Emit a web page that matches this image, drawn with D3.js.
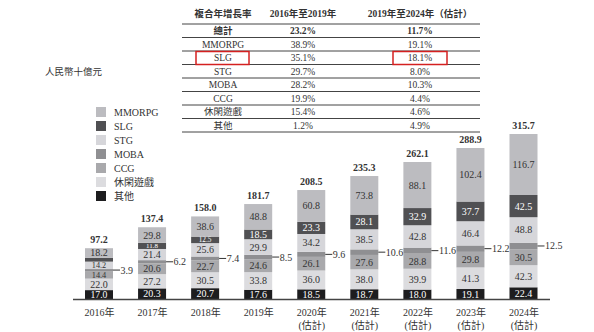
<!DOCTYPE html>
<html><head><meta charset="utf-8">
<script src="https://cdn.jsdelivr.net/npm/d3@7"></script>
<style>
body{margin:0;background:#fff;}
svg text{font-family:"Liberation Serif","Noto Sans CJK TC",serif;fill:#333;}
</style></head>
<body><svg id="c" width="594" height="332"></svg>
<script>
const years = ["2016年","2017年","2018年","2019年","2020年","2021年","2022年","2023年","2024年"];
const estimated = [false,false,false,false,true,true,true,true,true];
const seriesNames = ["其他","休閑遊戲","CCG","MOBA","STG","SLG","MMORPG"];
const other   = [17.0,20.3,20.7,17.6,18.5,18.7,18.0,19.1,22.4];
const casual  = [22.0,27.2,30.5,33.8,36.0,38.0,39.9,41.3,42.3];
const ccg     = [14.4,20.6,22.7,24.6,26.1,27.6,28.8,29.8,30.5];
const moba    = [3.9,6.2,7.4,8.5,9.6,10.6,11.6,12.2,12.5];
const stg     = [14.2,21.4,25.6,29.9,34.2,38.5,42.8,46.4,48.8];
const slg     = [7.5,11.8,12.5,18.5,23.3,28.1,32.9,37.7,42.5];
const mmorpg  = [18.2,29.8,38.6,48.8,60.8,73.8,88.1,102.4,116.7];
const totals  = [97.2,137.4,158.0,181.7,208.5,235.3,262.1,288.9,315.7];
const legendOrder = ["MMORPG","SLG","STG","MOBA","CCG","休閑遊戲","其他"];
const tableHeader = ["複合年增長率","2016年至2019年","2019年至2024年（估計）"];
const tableRows = ["總計","MMORPG","SLG","STG","MOBA","CCG","休閑遊戲","其他"];
const cagr1619 = ["23.2%","38.9%","35.1%","29.7%","28.2%","19.9%","15.4%","1.2%"];
const cagr1924 = ["11.7%","19.1%","18.1%","8.0%","10.3%","4.4%","4.6%","4.9%"];

const colors = {"其他":"#1d1d1f","休閑遊戲":"#dcdcdf","CCG":"#a9a9ac","MOBA":"#8f8f92","STG":"#d6d6da","SLG":"#505053","MMORPG":"#bcbcc0"};
const darkSeries = new Set(["其他","SLG"]);
const valuesBy = {"其他":other,"休閑遊戲":casual,"CCG":ccg,"MOBA":moba,"STG":stg,"SLG":slg,"MMORPG":mmorpg};

const svg = d3.select("#c");
const x = d3.scalePoint().domain(years).range([99,523.5]);
const y = d3.scaleLinear().domain([0,315.7]).range([299,134]);
const bw = 28;

const rows = years.map((yr,i)=>{const o={year:yr}; seriesNames.forEach(s=>o[s]=valuesBy[s][i]); return o;});
const stack = d3.stack().keys(seriesNames)(rows);

const g = svg.append("g");
stack.forEach(layer=>{
  const name = layer.key;
  layer.forEach((d,i)=>{
    const yr = years[i];
    const x0 = x(yr)-bw/2;
    const h = y(d[0])-y(d[1]);
    g.append("rect").attr("x",x0).attr("width",bw)
      .attr("y",y(d[1])).attr("height",h)
      .attr("fill",colors[name]);
    const v = valuesBy[name][i];
    const cy = (y(d[0])+y(d[1]))/2;
    if(name==="MOBA"){
      g.append("line").attr("x1",x0+bw).attr("x2",x0+bw+7).attr("y1",cy).attr("y2",cy)
        .attr("stroke","#333").attr("stroke-width",1);
      g.append("text").attr("x",x0+bw+7.5).attr("y",cy).attr("dy","0.35em")
        .attr("font-size",10).text(v.toFixed(1));
    } else if(!(name==="SLG" && i===0)){
      const fs = Math.min(10, h + 0.8);
      g.append("text").attr("x",x(yr)).attr("y",cy).attr("dy","0.35em")
        .attr("text-anchor","middle").attr("font-size",fs)
        .style("fill",darkSeries.has(name)?"#fff":"#333")
        .text(v.toFixed(1));
    }
  });
});
// totals
years.forEach((yr,i)=>{
  g.append("text").attr("x",x(yr)).attr("y",y(totals[i])-5)
    .attr("text-anchor","middle").attr("font-size",10).attr("font-weight","bold")
    .text(totals[i].toFixed(1));
});
// baseline
svg.append("line").attr("x1",73).attr("x2",550).attr("y1",y(0)+0.5).attr("y2",y(0)+0.5)
  .attr("stroke","#444").attr("stroke-width",1.5);
// x labels
const xAxis = d3.axisBottom(x).tickSize(0).tickPadding(0);
const ax = svg.append("g").attr("transform",`translate(0,${y(0)})`).call(xAxis);
ax.select(".domain").remove();
ax.selectAll(".tick text").remove();
ax.selectAll(".tick").each(function(yr,i){
  const t = d3.select(this);
  t.append("text").attr("y",17).attr("text-anchor","middle").attr("font-size",10).text(yr);
  if(estimated[i]) t.append("text").attr("y",30).attr("text-anchor","middle").attr("font-size",10).text("(估計)");
});
// unit
svg.append("text").attr("x",45).attr("y",75).attr("font-size",9.5).text("人民幣十億元");
// legend
legendOrder.forEach((n,i)=>{
  const ly = 107 + i*14;
  svg.append("rect").attr("x",96).attr("y",ly).attr("width",10).attr("height",10).attr("fill",colors[n]);
  svg.append("text").attr("x",114).attr("y",ly+5).attr("dy","0.35em").attr("font-size",10).text(n);
});
// table
const tx0 = 182, tx1 = 480;
const colX = [223,303,420];
const lineYs = d3.range(9).map(k=>24+k*13.5);
tableHeader.forEach((h,j)=>{
  svg.append("text").attr("x",colX[j]).attr("y",17).attr("text-anchor","middle")
    .attr("font-size",9.5).attr("font-weight","bold").text(h);
});
lineYs.forEach(ly=>{
  svg.append("line").attr("x1",tx0).attr("x2",tx1).attr("y1",ly).attr("y2",ly)
    .attr("stroke","#444").attr("stroke-width",1);
});
tableRows.forEach((r,k)=>{
  const cy = lineYs[k]+6.75;
  const bold = k===0 ? "bold":"normal";
  [r,cagr1619[k],cagr1924[k]].forEach((t,j)=>{
    svg.append("text").attr("x",colX[j]).attr("y",cy).attr("dy","0.35em")
      .attr("text-anchor","middle").attr("font-size",9.5).attr("font-weight",bold).text(t);
  });
});
// red highlight boxes around SLG row
const slgRow = tableRows.indexOf("SLG");
[[196,249],[393,447]].forEach(([a,b])=>{
  svg.append("rect").attr("x",a).attr("y",lineYs[slgRow]+0.5).attr("width",b-a).attr("height",13)
    .attr("fill","none").attr("stroke","#d42020").attr("stroke-width",1.5);
});
</script></body></html>
